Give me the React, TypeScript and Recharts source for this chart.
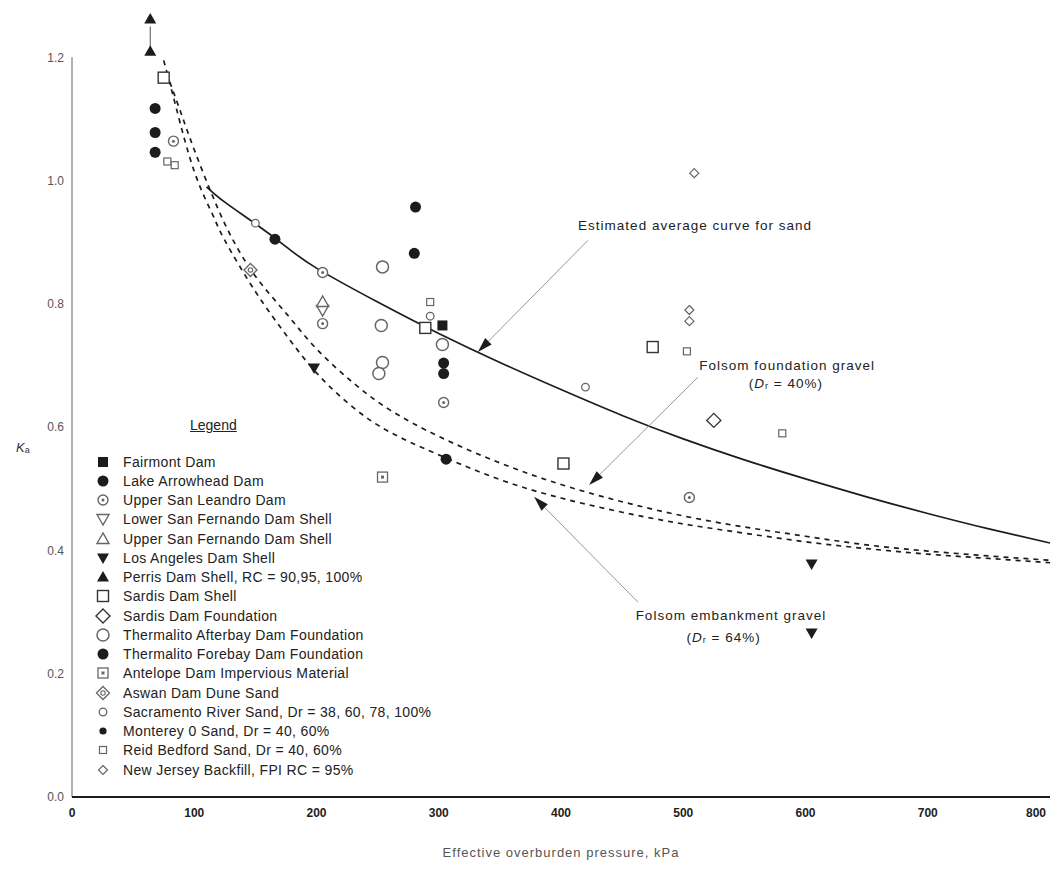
import {
  ComposedChart,
  Line,
  Scatter,
  XAxis,
  YAxis,
  Label,
  ReferenceLine,
  ReferenceDot,
} from 'recharts';

type Pt = { x: number; y: number };
const pts = (arr: number[][]): Pt[] => arr.map(([x, y]) => ({ x, y }));

// axis ticks
const xTicks = [0, 100, 200, 300, 400, 500, 600, 700, 800];
const yTicks = [0, 0.2, 0.4, 0.6, 0.8, 1.0, 1.2];

// curves
const sandCurve = pts([
  [110, 0.99], [125, 0.965], [150, 0.93], [175, 0.893], [200, 0.858], [250, 0.803],
  [300, 0.752], [350, 0.705], [400, 0.661], [450, 0.619], [500, 0.581], [550, 0.547],
  [600, 0.516], [650, 0.487], [700, 0.46], [750, 0.435], [800, 0.412],
]);
const foundationGravel = pts([
  [80, 1.16], [90, 1.105], [100, 1.05], [115, 0.975], [130, 0.91], [150, 0.845],
  [175, 0.785], [200, 0.727], [230, 0.672], [260, 0.628], [300, 0.585], [350, 0.542],
  [400, 0.507], [450, 0.479], [500, 0.456], [550, 0.438], [600, 0.423], [650, 0.409],
  [700, 0.399], [750, 0.391], [800, 0.384],
]);
const embankmentGravel = pts([
  [75, 1.195], [85, 1.12], [100, 1.015], [115, 0.945], [125, 0.903], [150, 0.82],
  [175, 0.75], [200, 0.688], [230, 0.632], [260, 0.592], [300, 0.555], [350, 0.515],
  [400, 0.485], [450, 0.462], [500, 0.443], [550, 0.428], [600, 0.414], [650, 0.403],
  [700, 0.394], [750, 0.387], [800, 0.38],
]);

// test points per site
const fairmont = pts([[303, 0.765]]);
const lakeArrowhead = pts([[166, 0.905], [281, 0.957], [280, 0.882]]);
const upperSanLeandro = pts([[83, 1.064], [205, 0.851], [205, 0.768], [304, 0.64], [505, 0.486]]);
const lowerSanFernando = pts([[205, 0.79]]);
const upperSanFernando = pts([[205, 0.803]]);
const losAngeles = pts([[198, 0.696], [605, 0.378], [605, 0.266]]);
const perris = pts([[64, 1.21], [64, 1.262]]);
const sardisShell = pts([[75, 1.167], [289, 0.761], [475, 0.73], [402, 0.541]]);
const sardisFoundation = pts([[525, 0.611]]);
const thermalitoAfterbay = pts([[254, 0.86], [253, 0.765], [303, 0.734], [254, 0.705], [251, 0.687]]);
const thermalitoForebay = pts([[304, 0.704], [304, 0.687], [306, 0.548]]);
const antelope = pts([[254, 0.519]]);
const aswan = pts([[146, 0.855]]);
const sacramento = pts([[150, 0.931], [293, 0.78], [420, 0.665]]);
const monterey = pts([[68, 1.117], [68, 1.078], [68, 1.046]]);
const reidBedford = pts([[78, 1.031], [84, 1.025], [293, 0.803], [503, 0.723], [581, 0.59]]);
const newJersey = pts([[509, 1.012], [505, 0.79], [505, 0.772]]);

type Kind =
  | 'sqF' | 'cirF' | 'cirDot' | 'triDownO' | 'triUpO' | 'triDownF' | 'triUpF' | 'sqO'
  | 'diaO' | 'cirO' | 'cirF2' | 'sqDot' | 'diaDot' | 'cirS' | 'cirSF' | 'sqS' | 'diaS';

const series: { name: string; kind: Kind; data: Pt[] }[] = [
  { name: 'Fairmont Dam', kind: 'sqF', data: fairmont },
  { name: 'Lake Arrowhead Dam', kind: 'cirF', data: lakeArrowhead },
  { name: 'Upper San Leandro Dam', kind: 'cirDot', data: upperSanLeandro },
  { name: 'Lower San Fernando Dam Shell', kind: 'triDownO', data: lowerSanFernando },
  { name: 'Upper San Fernando Dam Shell', kind: 'triUpO', data: upperSanFernando },
  { name: 'Los Angeles Dam Shell', kind: 'triDownF', data: losAngeles },
  { name: 'Perris Dam Shell, RC = 90,95, 100%', kind: 'triUpF', data: perris },
  { name: 'Sardis Dam Shell', kind: 'sqO', data: sardisShell },
  { name: 'Sardis Dam Foundation', kind: 'diaO', data: sardisFoundation },
  { name: 'Thermalito Afterbay Dam Foundation', kind: 'cirO', data: thermalitoAfterbay },
  { name: 'Thermalito Forebay Dam Foundation', kind: 'cirF2', data: thermalitoForebay },
  { name: 'Antelope Dam Impervious Material', kind: 'sqDot', data: antelope },
  { name: 'Aswan Dam Dune Sand', kind: 'diaDot', data: aswan },
  { name: 'Sacramento River Sand, Dr = 38, 60, 78, 100%', kind: 'cirS', data: sacramento },
  { name: 'Monterey 0 Sand, Dr = 40, 60%', kind: 'cirSF', data: monterey },
  { name: 'Reid Bedford Sand, Dr = 40, 60%', kind: 'sqS', data: reidBedford },
  { name: 'New Jersey Backfill, FPI RC = 95%', kind: 'diaS', data: newJersey },
];

const INK = '#1c1c1c';
const GREY = '#666';
const FONT = '"Liberation Sans", Arial, sans-serif';

function Marker({ kind, cx, cy, small }: { kind: Kind; cx: number; cy: number; small?: boolean }) {
  const tri = (up: boolean, s: number) =>
    up
      ? `${cx},${cy - s} ${cx - s},${cy + s * 0.75} ${cx + s},${cy + s * 0.75}`
      : `${cx},${cy + s} ${cx - s},${cy - s * 0.75} ${cx + s},${cy - s * 0.75}`;
  const dia = (s: number) => `${cx},${cy - s} ${cx + s},${cy} ${cx},${cy + s} ${cx - s},${cy}`;
  switch (kind) {
    case 'sqF':
      return <rect x={cx - 5} y={cy - 5} width={10} height={10} fill={INK} />;
    case 'cirF':
    case 'cirF2':
      return <circle cx={cx} cy={cy} r={5.5} fill={INK} />;
    case 'cirDot':
      return (
        <g>
          <circle cx={cx} cy={cy} r={5} fill="#fff" stroke={GREY} strokeWidth={1.4} />
          <circle cx={cx} cy={cy} r={1.5} fill={GREY} />
        </g>
      );
    case 'triDownO':
      return <polygon points={tri(false, 6)} fill="#fff" stroke={GREY} strokeWidth={1.4} />;
    case 'triUpO':
      return <polygon points={tri(true, 6)} fill="#fff" stroke={GREY} strokeWidth={1.4} />;
    case 'triDownF':
      return <polygon points={tri(false, 6)} fill={INK} />;
    case 'triUpF':
      return <polygon points={tri(true, 6)} fill={INK} />;
    case 'sqO':
      return <rect x={cx - 5.5} y={cy - 5.5} width={11} height={11} fill="#fff" stroke="#333" strokeWidth={1.4} />;
    case 'diaO':
      return <polygon points={dia(7)} fill="#fff" stroke="#333" strokeWidth={1.4} />;
    case 'cirO':
      return <circle cx={cx} cy={cy} r={6} fill="#fff" stroke={GREY} strokeWidth={1.5} />;
    case 'sqDot':
      return (
        <g>
          <rect x={cx - 5} y={cy - 5} width={10} height={10} fill="#fff" stroke={GREY} strokeWidth={1.3} />
          <rect x={cx - 1.5} y={cy - 1.5} width={3} height={3} fill={GREY} />
        </g>
      );
    case 'diaDot':
      return (
        <g>
          <polygon points={dia(6.5)} fill="#fff" stroke={GREY} strokeWidth={1.3} />
          <circle cx={cx} cy={cy} r={2.2} fill="none" stroke={GREY} strokeWidth={1.1} />
        </g>
      );
    case 'cirS':
      return <circle cx={cx} cy={cy} r={3.8} fill="#fff" stroke={GREY} strokeWidth={1.3} />;
    case 'cirSF':
      return <circle cx={cx} cy={cy} r={small ? 3.6 : 5.5} fill={INK} />;
    case 'sqS':
      return <rect x={cx - 3.5} y={cy - 3.5} width={7} height={7} fill="#fff" stroke={GREY} strokeWidth={1.2} />;
    case 'diaS':
      return <polygon points={dia(4.5)} fill="#fff" stroke={GREY} strokeWidth={1.2} />;
  }
  return null;
}

function arrowShape(p: any) {
  const { x1, y1, x2, y2 } = p;
  const ang = Math.atan2(y2 - y1, x2 - x1);
  const L = 15;
  const W = 4.5;
  const bx = x2 - L * Math.cos(ang);
  const by = y2 - L * Math.sin(ang);
  const px = -Math.sin(ang) * W;
  const py = Math.cos(ang) * W;
  return (
    <g>
      <line x1={x1} y1={y1} x2={bx} y2={by} stroke="#999" strokeWidth={1} />
      <polygon points={`${x2},${y2} ${bx + px},${by + py} ${bx - px},${by - py}`} fill={INK} />
    </g>
  );
}

// x tick; the last label is nudged left so it stays on the page
function XTick(p: any) {
  const last = p.payload.value === xTicks[xTicks.length - 1];
  return (
    <text
      x={p.x}
      y={p.y}
      dx={last ? -6 : 0}
      dy={10}
      textAnchor="middle"
      style={{ fontFamily: FONT, fontSize: 12, fontWeight: 700, fill: '#222' }}
    >
      {p.payload.value}
    </text>
  );
}

const textStyle = { fontFamily: FONT, fontSize: 13.5, fill: '#222', letterSpacing: 1 };

function note(text: React.ReactNode, anchor: 'start' | 'middle') {
  return (p: any) => (
    <text x={p.cx} y={p.cy} textAnchor={anchor} dominantBaseline="central" style={textStyle}>
      {text}
    </text>
  );
}

const dr = (val: string) => (
  <>
    (<tspan fontStyle="italic">D</tspan>
    <tspan fontSize={9} dy={3}>r</tspan>
    <tspan dy={-3}>{` = ${val})`}</tspan>
  </>
);

function LegendBox() {
  return (
    <div style={{ position: 'absolute', left: 87, top: 409, fontFamily: FONT, color: '#222' }}>
      <div style={{ marginLeft: 95, fontSize: 14, textDecoration: 'underline', height: 26 }}>Legend</div>
      <div style={{ marginTop: 9 }}>
        {series.map(s => (
          <div key={s.name} style={{ display: 'flex', alignItems: 'center', height: 19.25 }}>
            <svg width={16} height={16} style={{ marginRight: 12 }}>
              <Marker kind={s.kind} cx={8} cy={8} small />
            </svg>
            <span style={{ fontSize: 14, letterSpacing: 0.35, whiteSpace: 'nowrap' }}>{s.name}</span>
          </div>
        ))}
      </div>
    </div>
  );
}

export default function App() {
  return (
    <div style={{ position: 'relative', width: 1046, height: 853 }}>
      <ComposedChart width={1046} height={853} margin={{ top: 0, right: 4, left: 0, bottom: 0 }}>
        <XAxis
          type="number"
          dataKey="x"
          domain={[0, 800]}
          ticks={xTicks}
          tickLine={false}
          axisLine={{ stroke: INK, strokeWidth: 2 }}
          height={64}
          tick={<XTick />}
          tickMargin={4}
        >
          <Label
            content={(p: any) => (
              <text
                x={p.viewBox.x + p.viewBox.width / 2}
                y={p.viewBox.y + 55}
                textAnchor="middle"
                dominantBaseline="central"
                style={{ fontFamily: FONT, fontSize: 13, fill: '#555', letterSpacing: 1 }}
              >
                Effective overburden pressure, kPa
              </text>
            )}
          />
        </XAxis>
        <YAxis
          type="number"
          dataKey="y"
          domain={[0, 1.28]}
          ticks={yTicks}
          tickFormatter={(v: number) => v.toFixed(1)}
          tickLine={false}
          axisLine={false}
          width={64}
          tick={{ fontFamily: FONT, fontSize: 12, fill: '#555' }}
        >
          <Label
            content={(p: any) => (
              <text
                x={8}
                y={p.viewBox.y + p.viewBox.height * 0.556}
                dominantBaseline="central"
                style={{ fontFamily: FONT, fontSize: 13, fill: '#333' }}
              >
                <tspan fontStyle="italic">K</tspan>
                <tspan fontSize={9} dy={3}>a</tspan>
              </text>
            )}
          />
        </YAxis>

        {/* left axis line only up to 1.2 */}
        <ReferenceLine segment={[{ x: 0, y: 0 }, { x: 0, y: 1.2 }]} stroke="#999" strokeWidth={1.5} />
        {/* off-scale stem for Perris point */}
        <ReferenceLine segment={[{ x: 64, y: 1.217 }, { x: 64, y: 1.25 }]} stroke="#555" strokeWidth={1} ifOverflow="visible" />

        <Line data={sandCurve} dataKey="y" type="natural" stroke={INK} strokeWidth={1.7} dot={false} isAnimationActive={false} />
        <Line data={foundationGravel} dataKey="y" type="natural" stroke={INK} strokeWidth={1.7} strokeDasharray="5 5" dot={false} isAnimationActive={false} />
        <Line data={embankmentGravel} dataKey="y" type="natural" stroke={INK} strokeWidth={1.7} strokeDasharray="5 5" dot={false} isAnimationActive={false} />

        {series.map(s => (
          <Scatter
            key={s.name}
            name={s.name}
            data={s.data}
            dataKey="y"
            isAnimationActive={false}
            shape={(p: any) => <Marker kind={s.kind} cx={p.cx} cy={p.cy} />}
          />
        ))}

        {/* annotations */}
        <ReferenceLine segment={[{ x: 422, y: 0.903 }, { x: 332, y: 0.722 }]} shape={arrowShape} ifOverflow="visible" />
        <ReferenceLine segment={[{ x: 512, y: 0.681 }, { x: 423, y: 0.506 }]} shape={arrowShape} ifOverflow="visible" />
        <ReferenceLine segment={[{ x: 463, y: 0.316 }, { x: 378, y: 0.487 }]} shape={arrowShape} ifOverflow="visible" />

        <ReferenceDot x={414} y={0.927} r={0} ifOverflow="visible" shape={note('Estimated average curve for sand', 'start')} />
        <ReferenceDot x={585} y={0.7} r={0} ifOverflow="visible" shape={note('Folsom foundation gravel', 'middle')} />
        <ReferenceDot x={584} y={0.671} r={0} ifOverflow="visible" shape={note(dr('40%'), 'middle')} />
        <ReferenceDot x={539} y={0.295} r={0} ifOverflow="visible" shape={note('Folsom embankment gravel', 'middle')} />
        <ReferenceDot x={533} y={0.259} r={0} ifOverflow="visible" shape={note(dr('64%'), 'middle')} />
      </ComposedChart>
      <LegendBox />
    </div>
  );
}
